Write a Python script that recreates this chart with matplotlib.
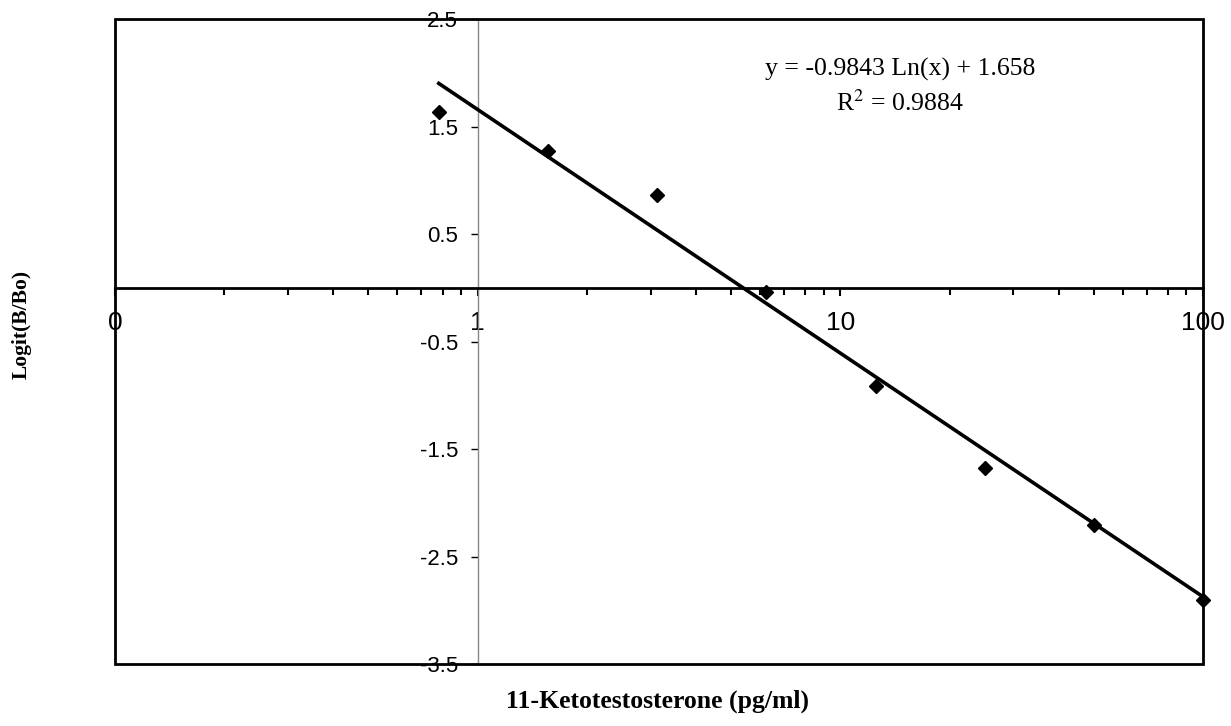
import numpy as np
import matplotlib
matplotlib.use('Agg')
import matplotlib.pyplot as plt
import matplotlib.ticker as ticker
from matplotlib.patches import Rectangle

# datos
conc = [0.78125, 1.5625, 3.125, 6.25, 12.5, 25, 50, 100]
logit = [1.635, 1.272, 0.863, -0.04, -0.914, -1.677, -2.21, -2.907]

# linea de tendencia (logaritmica) mostrada en el grafico
pendiente = -0.9843
intercepto = 1.658
r2 = 0.9884

x_ticks = [0.1, 1, 10, 100]
x_labels = ['0', '1', '10', '100']
y_ticks = [-3.5, -2.5, -1.5, -0.5, 0.5, 1.5, 2.5]
y_labels = ['-3.5', '-2.5', '-1.5', '-0.5', '0.5', '1.5', '2.5']

fig = plt.figure(figsize=(12.31, 7.26), dpi=100)
ax = fig.add_axes([0.0934, 0.0854, 0.8839, 0.8884])

ax.set_xscale('log')
ax.set_xlim(0.1, 100)
ax.set_ylim(-3.5, 2.5)

# puntos
ax.plot(conc, logit, linestyle='none', marker='D', markersize=7,
        color='black', zorder=4, clip_on=False)

# tendencia
xt = np.geomspace(min(conc), max(conc), 50)
ax.plot(xt, pendiente * np.log(xt) + intercepto, color='black', lw=2.6,
        zorder=3, clip_on=False)

# ejes cruzando en x=1 y y=0
ax.spines['left'].set_position(('data', 1))
ax.spines['left'].set_color('#888888')
ax.spines['left'].set_linewidth(1.0)
ax.spines['bottom'].set_position(('data', 0))
ax.spines['bottom'].set_color('black')
ax.spines['bottom'].set_linewidth(2.0)
ax.spines['top'].set_visible(False)
ax.spines['right'].set_visible(False)

# marco
ax.add_patch(Rectangle((0, 0), 1, 1, transform=ax.transAxes, fill=False,
                       edgecolor='black', lw=2.0, clip_on=False, zorder=5))

ax.xaxis.set_major_locator(ticker.FixedLocator(x_ticks))
ax.xaxis.set_major_formatter(ticker.FixedFormatter(x_labels))
ax.xaxis.set_minor_locator(ticker.LogLocator(base=10, subs=np.arange(2, 10)))
ax.xaxis.set_minor_formatter(ticker.NullFormatter())
ax.yaxis.set_major_locator(ticker.FixedLocator(y_ticks))
ax.yaxis.set_major_formatter(ticker.FixedFormatter(y_labels))

ax.tick_params(axis='x', which='major', direction='out', length=6, width=1.5,
               pad=11, labelsize=19, colors='black')
ax.tick_params(axis='x', which='minor', direction='out', length=5, width=1.5)
ax.tick_params(axis='y', which='major', direction='out', length=5, width=1.0,
               pad=9, labelsize=16, colors='black')
for lab in ax.get_xticklabels() + ax.get_yticklabels():
    lab.set_fontfamily('Liberation Sans')

# ecuacion
fig.text(900 / 1231, 1 - 69 / 726, 'y = -0.9843 Ln(x) + 1.658', fontsize=18.5,
         family='Liberation Serif', ha='center', va='center')
fig.text(900 / 1231, 1 - 103 / 726, 'R$^{2}$ = %.4f' % r2, fontsize=18.5,
         family='Liberation Serif', ha='center', va='center',
         math_fontfamily='stix')

fig.text(658 / 1231, 1 - 701 / 726, '11-Ketotestosterone (pg/ml)', fontsize=18.5,
         family='Liberation Serif', fontweight='bold', ha='center', va='center')
fig.text(22 / 1231, 1 - 324 / 726, 'Logit(B/Bo)', fontsize=15.5, rotation=90,
         family='Liberation Serif', fontweight='bold', ha='center', va='center')

fig.savefig('out.png', dpi=100)
